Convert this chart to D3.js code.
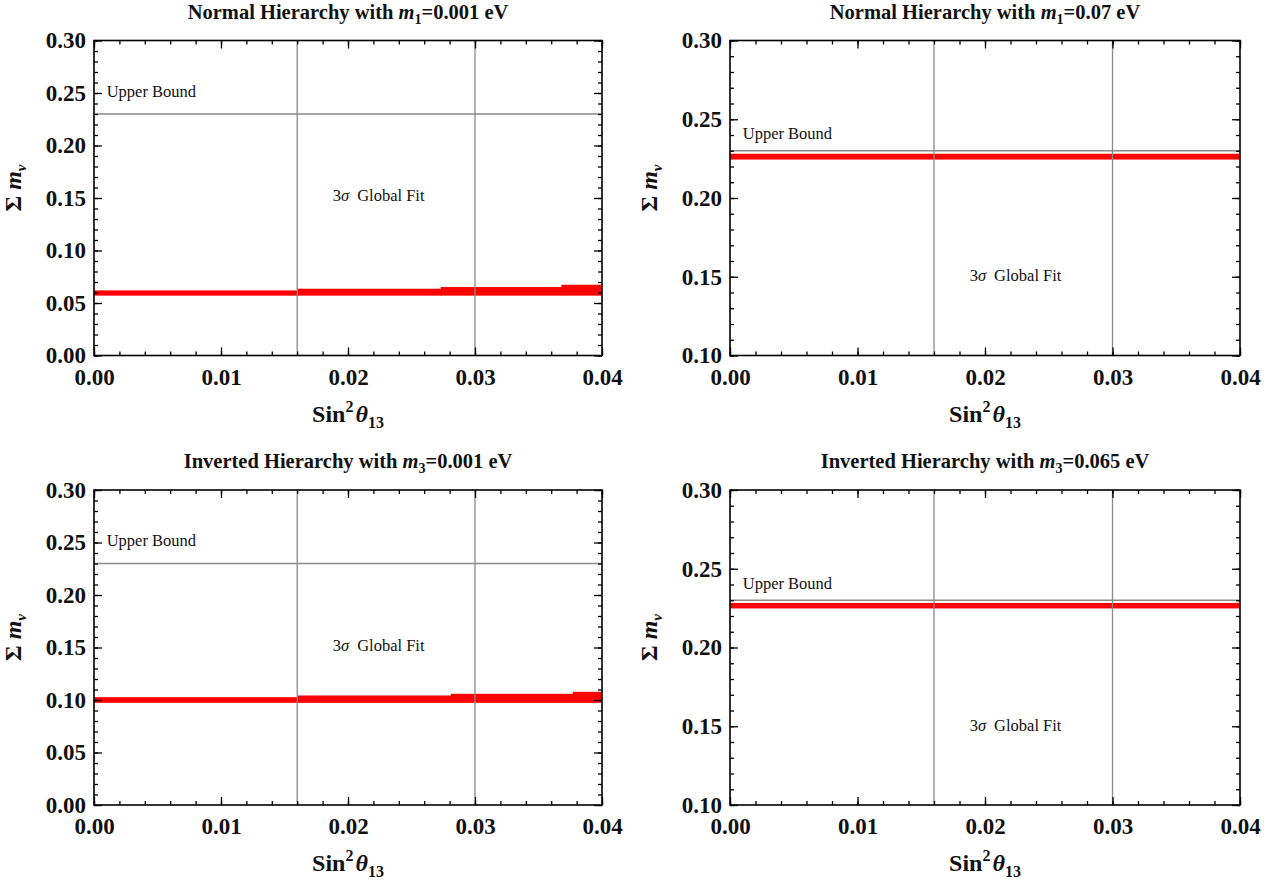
<!DOCTYPE html>
<html><head><meta charset="utf-8">
<script src="https://cdn.jsdelivr.net/npm/d3@7"></script>
<style>body{margin:0;background:#fff}svg{display:block}</style>
</head><body>
<svg id="c" width="1284" height="884"></svg>
<script>
// ---- data ----
const xTicks = [0.00, 0.01, 0.02, 0.03, 0.04];
const yTicksFull = [0.00, 0.05, 0.10, 0.15, 0.20, 0.25, 0.30];
const yTicksHigh = [0.10, 0.15, 0.20, 0.25, 0.30];
const globalFitLines = [0.016, 0.03];
const upperBound = 0.23;
const titlesPre = ["Normal Hierarchy with ", "Normal Hierarchy with ", "Inverted Hierarchy with ", "Inverted Hierarchy with "];
const titlesSub = ["1", "1", "3", "3"];
const titlesPost = ["=0.001 eV", "=0.07 eV", "=0.001 eV", "=0.065 eV"];
const yDomains = [[0, 0.30], [0.10, 0.30], [0, 0.30], [0.10, 0.30]];
// bands: [x0, x1, low, high]
const bandNHlow = [[0, 0.016, 0.0570, 0.0620], [0.016, 0.0273, 0.0570, 0.0636], [0.0273, 0.0368, 0.0570, 0.0652], [0.0368, 0.04, 0.0570, 0.0674]];
const bandNHhigh = [[0, 0.04, 0.2244, 0.2281]];
const bandIHlow = [[0, 0.016, 0.0973, 0.1027], [0.016, 0.0281, 0.0973, 0.1043], [0.0281, 0.0377, 0.0973, 0.1059], [0.0377, 0.04, 0.0973, 0.1078]];
const bandIHhigh = [[0, 0.04, 0.2248, 0.2283]];
const ubLabelPos = [[0.001, 0.2465], [0.001, 0.2372], [0.001, 0.2465], [0.001, 0.2372]];
const fitLabelPos = [[0.0188, 0.1468], [0.0188, 0.1470], [0.0188, 0.1468], [0.0188, 0.1470]];

const bands = [bandNHlow, bandNHhigh, bandIHlow, bandIHhigh];
const yTickSets = [yTicksFull, yTicksHigh, yTicksFull, yTicksHigh];

// ---- layout ----
const svg = d3.select("#c");
const serif = "'Liberation Serif', 'Times New Roman', serif";
const boxes = [
  {x0: 94, x1: 602, y0: 40.5, y1: 355.5},
  {x0: 730, x1: 1240, y0: 40.5, y1: 355.5},
  {x0: 94, x1: 602, y0: 490, y1: 805},
  {x0: 730, x1: 1240, y0: 490, y1: 805}
];

boxes.forEach((b, i) => {
  const x = d3.scaleLinear().domain([0, 0.04]).range([b.x0, b.x1]);
  const y = d3.scaleLinear().domain(yDomains[i]).range([b.y1, b.y0]);
  const g = svg.append("g");
  const cid = "clip" + i;
  svg.append("clipPath").attr("id", cid).append("rect")
    .attr("x", b.x0).attr("y", b.y0).attr("width", b.x1 - b.x0).attr("height", b.y1 - b.y0);

  // bands
  g.append("g").attr("clip-path", `url(#${cid})`).selectAll("rect").data(bands[i]).join("rect")
    .attr("x", d => x(d[0])).attr("width", d => x(d[1]) - x(d[0]) + 0.5)
    .attr("y", d => y(d[3])).attr("height", d => y(d[2]) - y(d[3]))
    .attr("fill", "#ff0000");

  // global fit lines
  g.selectAll("line.gf").data(globalFitLines).join("line").attr("class", "gf")
    .attr("x1", d => x(d)).attr("x2", d => x(d)).attr("y1", b.y0).attr("y2", b.y1)
    .attr("stroke", "#8a8a8a").attr("stroke-width", 1.3);
  // upper bound
  g.append("line").attr("x1", b.x0).attr("x2", b.x1).attr("y1", y(upperBound)).attr("y2", y(upperBound))
    .attr("stroke", "#8a8a8a").attr("stroke-width", 1.3);

  // axes with inward ticks
  const minorX = d3.range(0, 0.04 + 1e-9, 0.002);
  const minorY = d3.range(yDomains[i][0], yDomains[i][1] + 1e-9, 0.01);
  const fmt = d3.format(".2f");
  const axB = d3.axisBottom(x).tickValues(xTicks).tickFormat(fmt).tickSize(-8).tickPadding(13);
  const axT = d3.axisTop(x).tickValues(xTicks).tickFormat("").tickSize(-8);
  const axL = d3.axisLeft(y).tickValues(yTickSets[i]).tickFormat(fmt).tickSize(-8).tickPadding(8);
  const axR = d3.axisRight(y).tickValues(yTickSets[i]).tickFormat("").tickSize(-8);
  const mB = d3.axisBottom(x).tickValues(minorX).tickFormat("").tickSize(-4);
  const mT = d3.axisTop(x).tickValues(minorX).tickFormat("").tickSize(-4);
  const mL = d3.axisLeft(y).tickValues(minorY).tickFormat("").tickSize(-4);
  const mR = d3.axisRight(y).tickValues(minorY).tickFormat("").tickSize(-4);
  const place = [[axB, `translate(0,${b.y1})`], [axT, `translate(0,${b.y0})`], [axL, `translate(${b.x0},0)`], [axR, `translate(${b.x1},0)`],
                 [mB, `translate(0,${b.y1})`], [mT, `translate(0,${b.y0})`], [mL, `translate(${b.x0},0)`], [mR, `translate(${b.x1},0)`]];
  place.forEach(([ax, tr]) => {
    const a = g.append("g").attr("transform", tr).call(ax);
    a.select(".domain").remove();
    a.selectAll(".tick line").attr("stroke", "#000").attr("stroke-width", 1.3);
    a.selectAll("text").attr("font-family", serif).attr("font-weight", "bold").attr("font-size", 23).attr("fill", "#111");
  });
  // frame
  g.append("rect").attr("x", b.x0).attr("y", b.y0).attr("width", b.x1 - b.x0).attr("height", b.y1 - b.y0)
    .attr("fill", "none").attr("stroke", "#000").attr("stroke-width", 1.6);

  // annotations
  g.append("text").attr("x", x(ubLabelPos[i][0])).attr("y", y(ubLabelPos[i][1]))
    .attr("font-family", serif).attr("font-size", 16.5).attr("fill", "#111").text("Upper Bound");
  const ft = g.append("text").attr("x", x(fitLabelPos[i][0])).attr("y", y(fitLabelPos[i][1]))
    .attr("font-family", serif).attr("font-size", 16.5).attr("fill", "#111").attr("xml:space", "preserve");
  ft.append("tspan").text("3");
  ft.append("tspan").attr("font-style", "italic").text("σ");
  ft.append("tspan").attr("dx", 8).text("Global Fit");

  // title
  const cx = (b.x0 + b.x1) / 2;
  const t = g.append("text").attr("x", cx).attr("y", b.y0 - 22).attr("text-anchor", "middle")
    .attr("font-family", serif).attr("font-weight", "bold").attr("font-size", 20.5).attr("fill", "#111");
  t.append("tspan").text(titlesPre[i]);
  t.append("tspan").attr("font-style", "italic").text("m");
  t.append("tspan").attr("font-size", 14).attr("dy", 5).text(titlesSub[i]);
  t.append("tspan").attr("dy", -5).text(titlesPost[i]);

  // x label
  const xl = g.append("text").attr("x", cx).attr("y", b.y1 + 66).attr("text-anchor", "middle")
    .attr("font-family", serif).attr("font-weight", "bold").attr("font-size", 24).attr("fill", "#111");
  xl.append("tspan").text("Sin");
  xl.append("tspan").attr("font-size", 16).attr("dy", -10).text("2");
  xl.append("tspan").attr("font-style", "italic").attr("dy", 10).attr("dx", 2).text("θ");
  xl.append("tspan").attr("font-size", 16).attr("dy", 6).text("13");

  // y label
  const cy = (b.y0 + b.y1) / 2;
  const yl = g.append("text").attr("transform", `translate(${b.x0 - 73},${cy - 10}) rotate(-90)`).attr("text-anchor", "middle")
    .attr("font-family", serif).attr("font-weight", "bold").attr("font-size", 24).attr("fill", "#111");
  yl.append("tspan").text("Σ ");
  yl.append("tspan").attr("font-style", "italic").text("m");
  yl.append("tspan").attr("font-size", 15).attr("font-style", "italic").attr("dy", 5).text("ν");
});
</script>
</body></html>
